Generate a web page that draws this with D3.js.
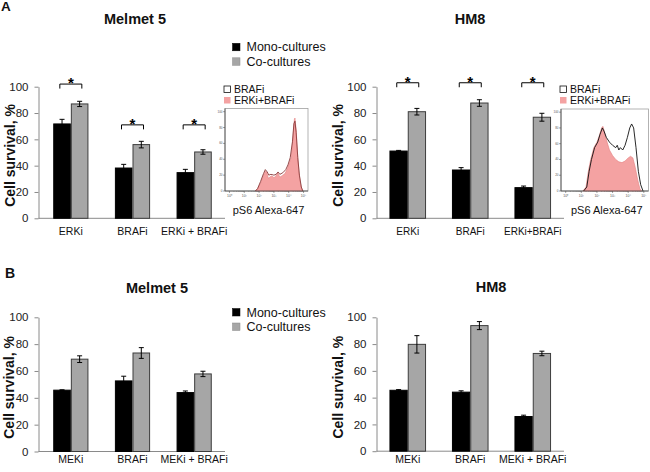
<!DOCTYPE html>
<html><head><meta charset="utf-8">
<script src="https://cdn.jsdelivr.net/npm/d3@7"></script>
<style>body{margin:0;background:#fff}</style>
</head><body>
<script>
// ---------- DATA ----------
const seriesNames = ["Mono-cultures", "Co-cultures"];
const yTicks = [0, 20, 40, 60, 80, 100];

const catsA_melmet = ["ERKi", "BRAFi", "ERKi + BRAFi"];
const catsA_hm8 = ["ERKi", "BRAFi", "ERKi+BRAFi"];
const catsB = ["MEKi", "BRAFi", "MEKi + BRAFi"];

const A_melmet_mono = [71.7, 38.2, 34.7];
const A_melmet_monoErr = [3.5, 2.8, 2.5];
const A_melmet_co = [86.9, 56.0, 50.4];
const A_melmet_coErr = [2.0, 2.5, 1.7];
const A_melmet_sig = [102, 71, 71];

const A_hm8_mono = [51.1, 36.7, 23.3];
const A_hm8_monoErr = [0.5, 1.8, 1.2];
const A_hm8_co = [81.0, 87.6, 76.8];
const A_hm8_coErr = [2.5, 2.5, 3.0];
const A_hm8_sig = [103, 103, 103];

const B_melmet_mono = [45.7, 52.6, 43.9];
const B_melmet_monoErr = [0.3, 3.5, 1.2];
const B_melmet_co = [68.8, 73.4, 57.8];
const B_melmet_coErr = [2.5, 4.0, 2.0];

const B_hm8_mono = [45.5, 44.1, 25.9];
const B_hm8_monoErr = [0.5, 1.0, 1.0];
const B_hm8_co = [79.8, 93.8, 73.0];
const B_hm8_coErr = [6.5, 3.0, 1.7];

// flow histograms: [log10 decade, % of max]
const histLegend = ["BRAFi", "ERKi+BRAFi"];
const histTicksX = ["10\u2070", "10\u00b9", "10\u00b2", "10\u00b3", "10\u2074", "10\u2075"];
const histTicksY = [0, 20, 40, 60, 80, 100];
const melmet_ERKiBRAFi = [[1.75,0],[1.9,3],[2.1,10],[2.3,20],[2.42,25],[2.5,24],[2.63,16],[2.75,18],[2.85,19],[3.0,17],[3.1,18],[3.26,23],[3.35,19],[3.45,18],[3.6,20],[3.75,22],[3.9,28],[4.05,36],[4.16,42],[4.27,64],[4.38,90],[4.42,92],[4.5,77],[4.61,42],[4.7,22],[4.77,12],[4.85,4],[4.95,0]];
const melmet_BRAFi = [[1.75,0],[1.9,3],[2.1,12],[2.3,22],[2.42,27],[2.55,24],[2.65,20],[2.8,21],[3.0,20],[3.15,21],[3.28,24],[3.4,21],[3.6,23],[3.8,27],[3.95,33],[4.1,42],[4.25,62],[4.35,85],[4.42,88],[4.5,74],[4.61,42],[4.72,20],[4.85,5],[4.95,0]];
const hm8_ERKiBRAFi = [[1.1,0],[1.3,5],[1.45,25],[1.6,40],[1.8,55],[2.0,62],[2.15,70],[2.3,80],[2.38,82],[2.5,74],[2.65,62],[2.8,52],[3.0,45],[3.2,40],[3.4,37],[3.6,36],[3.8,38],[4.0,42],[4.15,44],[4.3,42],[4.45,30],[4.6,15],[4.75,3],[4.85,0]];
const hm8_BRAFi = [[1.15,0],[1.35,5],[1.5,25],[1.65,40],[1.85,55],[2.05,62],[2.2,72],[2.35,80],[2.45,76],[2.6,68],[2.8,62],[3.0,58],[3.2,55],[3.3,58],[3.4,52],[3.5,55],[3.65,52],[3.8,58],[3.95,68],[4.1,80],[4.22,85],[4.35,80],[4.5,55],[4.65,25],[4.8,8],[4.95,0]];

// ---------- DRAW ----------
const W = 650, H = 472;
const FONT = "'Liberation Sans', Arial, Helvetica, sans-serif";
const svg = d3.select("body").append("svg").attr("width", W).attr("height", H)
  .style("background", "#fff").attr("font-family", FONT);

function text(x, y, s, size, opts = {}) {
  const t = svg.append("text").attr("x", x).attr("y", y).text(s)
    .attr("font-size", size).attr("fill", opts.fill || "#111")
    .attr("font-weight", opts.bold ? "bold" : "normal")
    .attr("text-anchor", opts.anchor || "start");
  if (opts.rotate) t.attr("transform", `rotate(-90,${x},${y})`);
  return t;
}

function barPanel(cfg) {
  const x0 = d3.scaleBand().domain(cfg.cats).range(cfg.xRange);
  const bw = x0.bandwidth();
  const x1 = d3.scaleBand().domain(seriesNames).range([bw / 2 - cfg.barW, bw / 2 + cfg.barW]);
  const y = d3.scaleLinear().domain([0, 100]).range(cfg.yRange);
  const g = svg.append("g");

  const ga = g.append("g").attr("transform", `translate(${cfg.axisX},0)`)
    .call(d3.axisLeft(y).tickValues(yTicks).tickSize(4).tickSizeOuter(0).tickPadding(6));
  ga.select(".domain").attr("stroke", "#8a8a8a");
  ga.selectAll(".tick line").attr("stroke", "#8a8a8a");
  ga.selectAll("text").attr("font-size", 11.5).attr("font-family", FONT).attr("fill", "#222");

  g.append("line").attr("x1", cfg.axisX).attr("x2", cfg.xRange[1])
    .attr("y1", y(0)).attr("y2", y(0)).attr("stroke", "#8a8a8a").attr("stroke-width", 1);

  const series = [
    { name: seriesNames[0], vals: cfg.mono, errs: cfg.monoErr, fill: "#000", stroke: "#000" },
    { name: seriesNames[1], vals: cfg.co, errs: cfg.coErr, fill: "#a6a6a6", stroke: "#3c3c3c" }
  ];
  series.forEach(s => {
    const bars = g.selectAll(null).data(cfg.cats).enter();
    bars.append("rect")
      .attr("x", c => x0(c) + x1(s.name) + 0.5)
      .attr("width", x1.bandwidth() - 1)
      .attr("y", (c, i) => y(s.vals[i]))
      .attr("height", (c, i) => y(0) - y(s.vals[i]))
      .attr("fill", s.fill).attr("stroke", s.stroke).attr("stroke-width", 1);
    cfg.cats.forEach((c, i) => {
      const cx = x0(c) + x1(s.name) + x1.bandwidth() / 2;
      const top = y(s.vals[i] + s.errs[i]), bot = y(s.vals[i] - s.errs[i]);
      const eg = g.append("g").attr("stroke", "#000").attr("stroke-width", 1);
      eg.append("line").attr("x1", cx).attr("x2", cx).attr("y1", top).attr("y2", bot);
      eg.append("line").attr("x1", cx - 2.5).attr("x2", cx + 2.5).attr("y1", top).attr("y2", top);
      eg.append("line").attr("x1", cx - 2.5).attr("x2", cx + 2.5).attr("y1", bot).attr("y2", bot);
    });
  });

  if (cfg.sig) {
    cfg.cats.forEach((c, i) => {
      const cx = x0(c) + bw / 2;
      const yy = y(cfg.sig[i]);
      g.append("path")
        .attr("d", `M${cx - 11},${yy + 4.5}V${yy}H${cx + 11}V${yy + 4.5}`)
        .attr("fill", "none").attr("stroke", "#000").attr("stroke-width", 1);
      text(cx, yy + 4, "*", 15, { anchor: "middle", bold: true, fill: "#000" });
    });
  }

  cfg.cats.forEach(c => {
    text(x0(c) + bw / 2, cfg.catY, c, cfg.catFont, { anchor: "middle" });
  });

  const yc = (cfg.yRange[0] + cfg.yRange[1]) / 2 + 3;
  text(cfg.labelX, yc, "Cell survival, %", 14, { anchor: "middle", bold: true, rotate: true });
}

function legend(x, y) {
  const cols = ["#000", "#a6a6a6"];
  seriesNames.forEach((s, i) => {
    svg.append("rect").attr("x", x).attr("y", y + i * 14.5).attr("width", 7.5).attr("height", 7.5)
      .attr("fill", cols[i]).attr("stroke", i ? "#888" : "#000").attr("stroke-width", 0.5);
    text(x + 14, y + i * 14.5 + 8, s, 12.5);
  });
}

function inset(cfg) {
  const hx = d3.scaleLinear().domain([-0.3, 5.3]).range([cfg.left, cfg.right]);
  const hy = d3.scaleLinear().domain([0, 104]).range([cfg.bottom, cfg.top]);
  const g = svg.append("g");
  g.append("rect").attr("x", cfg.left).attr("y", cfg.top)
    .attr("width", cfg.right - cfg.left).attr("height", cfg.bottom - cfg.top)
    .attr("fill", "#fff").attr("stroke", "#a0a0a0").attr("stroke-width", 0.8);
  const area = d3.area().x(d => hx(d[0])).y0(hy(0)).y1(d => hy(d[1])).curve(d3.curveLinear);
  const line = d3.line().x(d => hx(d[0])).y(d => hy(d[1])).curve(d3.curveLinear);
  g.append("path").datum(cfg.fillData).attr("d", area)
    .attr("fill", "#f4a2a2").attr("stroke", "#e48080").attr("stroke-width", 0.6);
  g.append("path").datum(cfg.lineData).attr("d", line)
    .attr("fill", "none").attr("stroke", cfg.lineColor).attr("stroke-width", 0.9);
  g.append("line").attr("x1", cfg.left).attr("x2", cfg.left).attr("y1", cfg.top).attr("y2", cfg.bottom)
    .attr("stroke", "#444").attr("stroke-width", 0.8);
  g.append("line").attr("x1", cfg.left).attr("x2", cfg.right).attr("y1", cfg.bottom).attr("y2", cfg.bottom)
    .attr("stroke", "#444").attr("stroke-width", 0.8);
  histTicksY.forEach(v => {
    g.append("line").attr("x1", cfg.left - 2).attr("x2", cfg.left).attr("y1", hy(v)).attr("y2", hy(v))
      .attr("stroke", "#444").attr("stroke-width", 0.5);
    text(cfg.left - 2.5, hy(v) + 1, String(v), 3, { anchor: "end", fill: "#555" });
  });
  histTicksX.forEach((t, i) => {
    g.append("line").attr("x1", hx(i)).attr("x2", hx(i)).attr("y1", cfg.bottom).attr("y2", cfg.bottom + 2)
      .attr("stroke", "#444").attr("stroke-width", 0.5);
    if (i < 5) for (let k = 2; k < 10; k++) {
      const xx = hx(i + Math.log10(k));
      g.append("line").attr("x1", xx).attr("x2", xx).attr("y1", cfg.bottom).attr("y2", cfg.bottom + 1)
        .attr("stroke", "#666").attr("stroke-width", 0.4);
    }
    text(hx(i), cfg.bottom + 6, t, 3.5, { anchor: "middle", fill: "#555" });
  });
  text((cfg.left + cfg.right) / 2 + 2, 214, "pS6 Alexa-647", 11, { anchor: "middle" });
  svg.append("rect").attr("x", cfg.left - 1).attr("y", 86).attr("width", 6.5).attr("height", 6.5)
    .attr("fill", "#fff").attr("stroke", "#111").attr("stroke-width", 0.8);
  text(cfg.left + 9, 93, histLegend[0], 10.5);
  svg.append("rect").attr("x", cfg.left - 1).attr("y", 97).attr("width", 6.5).attr("height", 6.5)
    .attr("fill", "#f4a2a2");
  text(cfg.left + 9, 104, histLegend[1], 10.5);
}

text(1, 11, "A", 13.5, { bold: true });
text(5, 278, "B", 14, { bold: true });
text(135, 24, "Melmet 5", 14.5, { anchor: "middle", bold: true });
text(470, 24, "HM8", 14.5, { anchor: "middle", bold: true });
text(157, 292.5, "Melmet 5", 14.5, { anchor: "middle", bold: true });
text(491, 292, "HM8", 14.5, { anchor: "middle", bold: true });

legend(232.5, 43.3);
legend(232.5, 308.5);

barPanel({ cats: catsA_melmet, mono: A_melmet_mono, monoErr: A_melmet_monoErr, co: A_melmet_co, coErr: A_melmet_coErr,
  sig: A_melmet_sig, xRange: [40, 225], yRange: [218.3, 86.7], axisX: 38.5, barW: 17.6, catY: 235, catFont: 10.5, labelX: 14.5 });
barPanel({ cats: catsA_hm8, mono: A_hm8_mono, monoErr: A_hm8_monoErr, co: A_hm8_co, coErr: A_hm8_coErr,
  sig: A_hm8_sig, xRange: [376.5, 564], yRange: [218.3, 86.7], axisX: 376.5, barW: 18.3, catY: 235, catFont: 10, labelX: 343 });
barPanel({ cats: catsB, mono: B_melmet_mono, monoErr: B_melmet_monoErr, co: B_melmet_co, coErr: B_melmet_coErr,
  xRange: [40, 225], yRange: [451.5, 317.3], axisX: 38.5, barW: 17.6, catY: 463, catFont: 10.5, labelX: 14.5 });
barPanel({ cats: catsB, mono: B_hm8_mono, monoErr: B_hm8_monoErr, co: B_hm8_co, coErr: B_hm8_coErr,
  xRange: [376.5, 564], yRange: [451.2, 317.3], axisX: 376.5, barW: 18.3, catY: 463, catFont: 10.5, labelX: 343 });

inset({ left: 225, right: 308, top: 108.5, bottom: 191, fillData: melmet_ERKiBRAFi, lineData: melmet_BRAFi, lineColor: "#8a3a3a" });
inset({ left: 561, right: 648.5, top: 109, bottom: 191, fillData: hm8_ERKiBRAFi, lineData: hm8_BRAFi, lineColor: "#111" });
</script>
</body></html>
